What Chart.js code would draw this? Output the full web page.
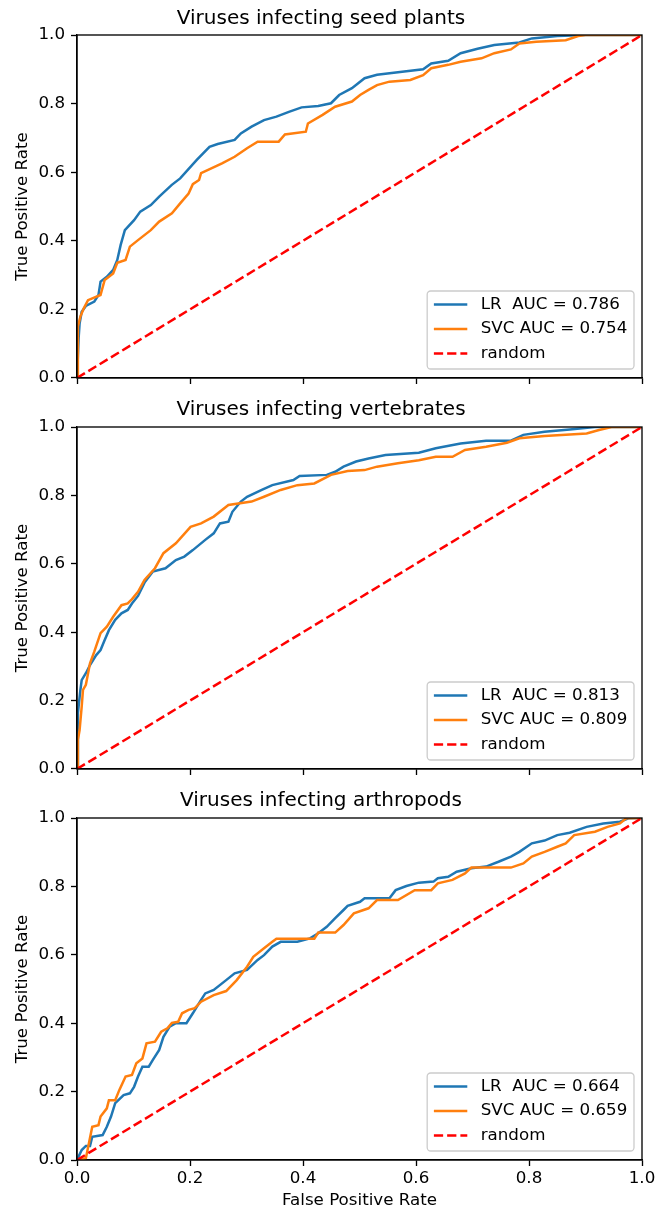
<!DOCTYPE html>
<html>
<head>
<meta charset="utf-8">
<script src="https://cdn.jsdelivr.net/npm/chart.js@4.4.1/dist/chart.umd.min.js"></script>
<style>
  body { margin: 0; background: #fff; overflow: hidden; }
  #wrap { position: relative; width: 657px; height: 1211px; overflow: hidden; }
  canvas { position: absolute; left: 0; }
</style>
</head>
<body>
<div id="wrap">
  <canvas id="seed" width="660" height="394" style="top:0px"></canvas>
  <canvas id="vert" width="660" height="394" style="top:391px"></canvas>
  <canvas id="arth" width="660" height="429" style="top:782px"></canvas>
</div>
<script>
// panel titles and AUC values
var panelTitles = ["Viruses infecting seed plants", "Viruses infecting vertebrates", "Viruses infecting arthropods"];
var lrAuc = ["0.786", "0.813", "0.664"];
var svcAuc = ["0.754", "0.809", "0.659"];
var tickValues = [0, 0.2, 0.4, 0.6, 0.8, 1.0];

// seed plants
var seedLrFpr = [0, 0.003, 0.0046, 0.0083, 0.0157, 0.0306, 0.038, 0.0417, 0.0528, 0.064, 0.0713, 0.0773, 0.0847, 0.101, 0.112, 0.1307, 0.1455, 0.1678, 0.1826, 0.212, 0.2345, 0.249, 0.279, 0.290, 0.309, 0.331, 0.353, 0.375, 0.3975, 0.427, 0.4495, 0.464, 0.4866, 0.509, 0.531, 0.5755, 0.6126, 0.627, 0.657, 0.679, 0.709, 0.7386, 0.783, 0.805, 0.85, 0.9, 1];
var seedLrTpr = [0, 0.12, 0.159, 0.193, 0.21, 0.2226, 0.242, 0.281, 0.295, 0.315, 0.344, 0.388, 0.431, 0.46, 0.485, 0.504, 0.529, 0.563, 0.582, 0.636, 0.674, 0.682, 0.694, 0.713, 0.733, 0.752, 0.762, 0.776, 0.789, 0.793, 0.801, 0.825, 0.845, 0.874, 0.884, 0.893, 0.900, 0.917, 0.925, 0.947, 0.960, 0.971, 0.978, 0.990, 0.997, 1.0, 1.0];
var seedSvcFpr = [0, 0.0016, 0.006, 0.012, 0.0195, 0.0416, 0.049, 0.064, 0.0713, 0.086, 0.0936, 0.108, 0.1306, 0.1455, 0.168, 0.1826, 0.1975, 0.205, 0.216, 0.2196, 0.2567, 0.279, 0.301, 0.3197, 0.357, 0.368, 0.405, 0.4087, 0.4347, 0.4568, 0.4866, 0.501, 0.516, 0.531, 0.553, 0.590, 0.6126, 0.627, 0.657, 0.679, 0.716, 0.7386, 0.768, 0.783, 0.8128, 0.865, 0.887, 0.9, 1];
var seedSvcTpr = [0, 0.15, 0.179, 0.203, 0.227, 0.242, 0.286, 0.305, 0.336, 0.344, 0.383, 0.402, 0.431, 0.456, 0.48, 0.509, 0.538, 0.565, 0.577, 0.597, 0.6255, 0.645, 0.67, 0.689, 0.689, 0.71, 0.718, 0.742, 0.767, 0.791, 0.806, 0.825, 0.84, 0.854, 0.864, 0.869, 0.883, 0.903, 0.913, 0.922, 0.932, 0.947, 0.958, 0.975, 0.98, 0.985, 0.997, 1.0, 1.0];

// vertebrates
var vertLrFpr = [0, 0.0016, 0.006, 0.0083, 0.0157, 0.023, 0.034, 0.0417, 0.049, 0.0565, 0.0676, 0.0787, 0.0898, 0.0973, 0.108, 0.1195, 0.134, 0.1566, 0.175, 0.19, 0.205, 0.227, 0.242, 0.253, 0.268, 0.275, 0.290, 0.301, 0.327, 0.3457, 0.383, 0.394, 0.442, 0.457, 0.4717, 0.494, 0.516, 0.546, 0.605, 0.635, 0.679, 0.724, 0.768, 0.79, 0.8276, 0.872, 0.9167, 1];
var vertLrTpr = [0, 0.163, 0.231, 0.26, 0.28, 0.304, 0.333, 0.348, 0.377, 0.406, 0.436, 0.455, 0.465, 0.484, 0.506, 0.545, 0.577, 0.587, 0.611, 0.621, 0.64, 0.67, 0.689, 0.718, 0.723, 0.752, 0.782, 0.796, 0.816, 0.830, 0.845, 0.857, 0.860, 0.869, 0.884, 0.899, 0.908, 0.918, 0.925, 0.938, 0.952, 0.960, 0.960, 0.977, 0.986, 0.993, 1.0, 1.0];
var vertSvcFpr = [0, 0.0016, 0.0046, 0.0083, 0.0106, 0.0157, 0.023, 0.0306, 0.0417, 0.0528, 0.064, 0.0787, 0.0898, 0.097, 0.108, 0.1195, 0.138, 0.153, 0.175, 0.201, 0.2196, 0.242, 0.268, 0.309, 0.331, 0.3605, 0.39, 0.42, 0.4496, 0.479, 0.509, 0.531, 0.568, 0.605, 0.635, 0.6646, 0.6867, 0.724, 0.761, 0.783, 0.8276, 0.902, 0.924, 0.946, 1];
var vertSvcTpr = [0, 0.085, 0.114, 0.182, 0.231, 0.246, 0.309, 0.343, 0.397, 0.416, 0.445, 0.479, 0.484, 0.496, 0.518, 0.553, 0.587, 0.631, 0.66, 0.708, 0.718, 0.738, 0.772, 0.782, 0.796, 0.816, 0.830, 0.835, 0.860, 0.871, 0.874, 0.884, 0.894, 0.903, 0.913, 0.913, 0.933, 0.942, 0.954, 0.967, 0.974, 0.981, 0.991, 1.0, 1.0];

// arthropods
var arthLrFpr = [0, 0.0083, 0.0157, 0.023, 0.027, 0.0454, 0.0528, 0.0602, 0.0676, 0.0825, 0.0936, 0.101, 0.108, 0.1158, 0.127, 0.134, 0.1455, 0.153, 0.164, 0.175, 0.1937, 0.205, 0.212, 0.2196, 0.227, 0.242, 0.264, 0.279, 0.301, 0.3197, 0.331, 0.3457, 0.3605, 0.39, 0.4124, 0.427, 0.442, 0.457, 0.4717, 0.479, 0.501, 0.509, 0.553, 0.564, 0.583, 0.605, 0.631, 0.6386, 0.657, 0.672, 0.698, 0.724, 0.746, 0.768, 0.783, 0.805, 0.8276, 0.85, 0.872, 0.902, 0.9315, 0.961, 0.976, 1];
var arthLrTpr = [0, 0.029, 0.041, 0.041, 0.068, 0.073, 0.097, 0.127, 0.166, 0.19, 0.195, 0.214, 0.244, 0.273, 0.273, 0.292, 0.322, 0.36, 0.39, 0.40, 0.40, 0.429, 0.448, 0.468, 0.487, 0.497, 0.526, 0.546, 0.556, 0.585, 0.599, 0.624, 0.638, 0.638, 0.648, 0.663, 0.682, 0.707, 0.731, 0.743, 0.755, 0.765, 0.765, 0.789, 0.801, 0.811, 0.814, 0.824, 0.828, 0.843, 0.853, 0.858, 0.872, 0.887, 0.901, 0.926, 0.934, 0.95, 0.957, 0.974, 0.984, 0.989, 0.999, 1];
var arthSvcFpr = [0, 0.0157, 0.027, 0.038, 0.0417, 0.0528, 0.0565, 0.0676, 0.075, 0.086, 0.0973, 0.105, 0.1158, 0.123, 0.138, 0.149, 0.160, 0.168, 0.179, 0.186, 0.1975, 0.2085, 0.2196, 0.242, 0.264, 0.2827, 0.301, 0.312, 0.331, 0.3457, 0.353, 0.42, 0.427, 0.457, 0.4717, 0.490, 0.516, 0.531, 0.568, 0.5977, 0.627, 0.6386, 0.6646, 0.6867, 0.698, 0.768, 0.79, 0.805, 0.8276, 0.85, 0.865, 0.88, 0.9167, 0.939, 0.961, 0.972, 1];
var arthSvcTpr = [0, 0.005, 0.097, 0.102, 0.127, 0.151, 0.175, 0.175, 0.205, 0.244, 0.249, 0.283, 0.297, 0.341, 0.346, 0.375, 0.385, 0.401, 0.404, 0.429, 0.439, 0.444, 0.463, 0.482, 0.494, 0.526, 0.565, 0.594, 0.619, 0.638, 0.647, 0.647, 0.665, 0.665, 0.687, 0.721, 0.736, 0.760, 0.760, 0.789, 0.789, 0.809, 0.819, 0.838, 0.855, 0.855, 0.867, 0.887, 0.901, 0.916, 0.926, 0.95, 0.96, 0.974, 0.984, 0.999, 1];

// chance line
var randomFpr = [0, 1];
var randomTpr = [0, 1];

Chart.defaults.font.family = "'DejaVu Sans', sans-serif";
Chart.defaults.color = '#000';
Chart.defaults.elements.point.radius = 0;

// zip two columns into {x,y}
function toPoints(xs, ys){
  var pts = [];
  for(var i = 0; i < xs.length; i++){
    pts.push({x: xs[i], y: ys[i]});
  }
  return pts;
}

// top + right spines (left/bottom come from the axes)
var frame = {
  id: 'frame',
  afterDatasetsDraw(chart){
    var a = chart.chartArea, ctx = chart.ctx;
    ctx.save();
    ctx.strokeStyle = '#000';
    ctx.lineWidth = 1.33;
    ctx.strokeRect(a.left, a.top, a.right - a.left, a.bottom - a.top);
    ctx.restore();
  }
};

// matplotlib style legend in the lower right corner of the plot
var boxLegend = {
  id: 'boxLegend',
  afterDraw(chart){
    var ctx = chart.ctx, a = chart.chartArea;
    var sets = chart.data.datasets;
    var fs = 16.7;
    ctx.save();
    ctx.font = fs + "px 'DejaVu Sans'";
    var textW = 0;
    sets.forEach(function(d){ textW = Math.max(textW, ctx.measureText(d.label).width); });
    var pad = 6.7, handle = 33.4, gap = 13.4, rowH = 24.5;
    var w = pad + handle + gap + textW + pad;
    var h = 78;
    var right = a.right - 8, bottom = a.bottom - 9;
    var left = right - w, top = bottom - h;
    ctx.beginPath();
    ctx.roundRect(left, top, w, h, 3.5);
    ctx.fillStyle = 'rgba(255,255,255,0.8)';
    ctx.fill();
    ctx.lineWidth = 1.3;
    ctx.strokeStyle = '#cccccc';
    ctx.stroke();
    sets.forEach(function(d, i){
      var y = top + 13.5 + i * rowH;
      ctx.beginPath();
      ctx.setLineDash(d.borderDash || []);
      ctx.strokeStyle = d.borderColor;
      ctx.lineWidth = d.borderWidth;
      ctx.moveTo(left + pad, y);
      ctx.lineTo(left + pad + handle, y);
      ctx.stroke();
      ctx.setLineDash([]);
      ctx.fillStyle = '#000';
      ctx.textBaseline = 'middle';
      ctx.textAlign = 'left';
      ctx.fillText(d.label, left + pad + handle + gap, y);
    });
    ctx.restore();
  }
};

function makeRoc(id, n, lrF, lrT, svcF, svcT, showX, titlePad, xHeight){
  var data = {
    datasets: [{
      label: 'LR  AUC = ' + lrAuc[n],
      data: toPoints(lrF, lrT),
      borderColor: '#1f77b4',
      borderWidth: 2.5,
      tension: 0,
      order: 3
    },{
      label: 'SVC AUC = ' + svcAuc[n],
      data: toPoints(svcF, svcT),
      borderColor: '#ff7f0e',
      borderWidth: 2.5,
      tension: 0,
      order: 2
    },{
      label: 'random',
      data: toPoints(randomFpr, randomTpr),
      borderColor: '#ff0000',
      borderWidth: 2.5,
      borderDash: [9.25, 4],
      tension: 0,
      order: 1
    }]
  };

  var axisCommon = function(){
    return {
      type: 'linear', min: 0, max: 1,
      afterBuildTicks: function(s){ s.ticks = tickValues.map(function(v){ return {value: v}; }); },
      grid: { drawOnChartArea: false, drawTicks: true, tickLength: 6, tickColor: '#000', tickWidth: 1.33 },
      border: { display: true, color: '#000', width: 1.33 }
    };
  };

  var xAxis = axisCommon();
  xAxis.ticks = { display: showX, padding: 3, font: {size: 16.7}, autoSkip: false, maxRotation: 0,
    callback: function(v){ return v.toFixed(1); } };
  xAxis.title = { display: showX, text: 'False Positive Rate', font: {size: 16.7}, padding: {top: 0, bottom: 0} };
  xAxis.afterFit = function(s){ s.height = xHeight; };

  var yAxis = axisCommon();
  yAxis.ticks = { padding: 6, font: {size: 16.7}, autoSkip: false,
    callback: function(v){ return v.toFixed(1); } };
  yAxis.title = { display: true, text: 'True Positive Rate', font: {size: 16.7}, padding: {top: 13, bottom: 0} };
  yAxis.afterFit = function(s){ s.width = 77; };

  return new Chart(document.getElementById(id), {
    type: 'line',
    data: data,
    options: {
      responsive: false,
      animation: false,
      events: [],
      layout: { padding: {left: 0, right: 18, top: 0, bottom: 0} },
      plugins: {
        legend: { display: false },
        tooltip: { enabled: false },
        title: { display: true, text: panelTitles[n], color: '#000',
          font: {size: 20, weight: 'normal'}, padding: titlePad }
      },
      scales: { x: xAxis, y: yAxis }
    },
    plugins: [frame, boxLegend]
  });
}

var seedChart = makeRoc('seed', 0, seedLrFpr, seedLrTpr, seedSvcFpr, seedSvcTpr, false, {top: 7, bottom: 4}, 16);
var vertChart = makeRoc('vert', 1, vertLrFpr, vertLrTpr, vertSvcFpr, vertSvcTpr, false, {top: 7, bottom: 5}, 16);
var arthChart = makeRoc('arth', 2, arthLrFpr, arthLrTpr, arthSvcFpr, arthSvcTpr, true, {top: 7, bottom: 5}, 51);
</script>
</body>
</html>
